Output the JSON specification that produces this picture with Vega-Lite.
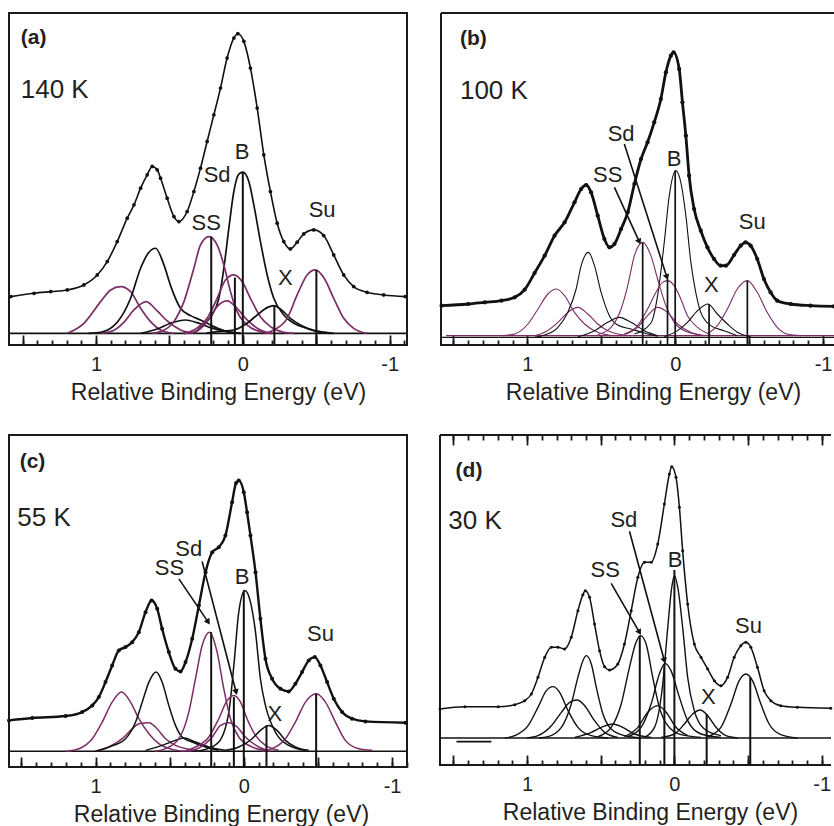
{
"$schema": "https://vega.github.io/schema/vega-lite/v6.json",
"background": "white",
"padding": {"left": 3, "top": 12, "right": 0, "bottom": 0},
"config": {
 "font": "Liberation Sans",
 "view": {"stroke": null},
 "axis": {"grid": false, "tickColor": "#1a1a1a", "tickWidth": 1.8, "domainColor": "#1a1a1a", "domainWidth": 2, "labelColor": "#231f20", "labelFontSize": 20, "labelPadding": 18, "labelFlush": false, "labelOverlap": false, "titleColor": "#231f20", "titleFontSize": 23, "titleFontWeight": "normal", "titlePadding": 7}
},
"datasets": {
 "comp": [
  {"p":"a","s":"base","g":"k","x":1.592,"y":3.5},{"p":"a","s":"base","g":"k","x":-1.118,"y":3.5},
  {"p":"a","s":"P1","g":"m","x":1.195,"y":3.5},{"p":"a","s":"P1","g":"m","x":1.082,"y":6.5},{"p":"a","s":"P1","g":"m","x":0.968,"y":13.0},{"p":"a","s":"P1","g":"m","x":0.9,"y":16.5},{"p":"a","s":"P1","g":"m","x":0.832,"y":17.5},{"p":"a","s":"P1","g":"m","x":0.764,"y":16.0},{"p":"a","s":"P1","g":"m","x":0.696,"y":11.0},{"p":"a","s":"P1","g":"m","x":0.628,"y":7.0},{"p":"a","s":"P1","g":"m","x":0.56,"y":4.5},{"p":"a","s":"P1","g":"m","x":0.469,"y":3.5},
  {"p":"a","s":"P2","g":"m","x":0.98,"y":3.5},{"p":"a","s":"P2","g":"m","x":0.9,"y":4.0},{"p":"a","s":"P2","g":"m","x":0.81,"y":6.8},{"p":"a","s":"P2","g":"m","x":0.741,"y":10.5},{"p":"a","s":"P2","g":"m","x":0.658,"y":13.0},{"p":"a","s":"P2","g":"m","x":0.583,"y":10.2},{"p":"a","s":"P2","g":"m","x":0.515,"y":7.2},{"p":"a","s":"P2","g":"m","x":0.424,"y":4.5},{"p":"a","s":"P2","g":"m","x":0.333,"y":3.5},
  {"p":"a","s":"K1","g":"k","x":1.05,"y":3.5},{"p":"a","s":"K1","g":"k","x":0.968,"y":3.8},{"p":"a","s":"K1","g":"k","x":0.855,"y":6.8},{"p":"a","s":"K1","g":"k","x":0.764,"y":14.0},{"p":"a","s":"K1","g":"k","x":0.696,"y":23.0},{"p":"a","s":"K1","g":"k","x":0.639,"y":27.8},{"p":"a","s":"K1","g":"k","x":0.594,"y":29.0},{"p":"a","s":"K1","g":"k","x":0.537,"y":24.0},{"p":"a","s":"K1","g":"k","x":0.492,"y":17.8},{"p":"a","s":"K1","g":"k","x":0.424,"y":11.0},{"p":"a","s":"K1","g":"k","x":0.356,"y":8.8},{"p":"a","s":"K1","g":"k","x":0.288,"y":7.5},{"p":"a","s":"K1","g":"k","x":0.197,"y":5.5},{"p":"a","s":"K1","g":"k","x":0.107,"y":4.0},{"p":"a","s":"K1","g":"k","x":0.016,"y":3.5},
  {"p":"a","s":"K2","g":"k","x":0.696,"y":3.5},{"p":"a","s":"K2","g":"k","x":0.583,"y":4.8},{"p":"a","s":"K2","g":"k","x":0.492,"y":6.5},{"p":"a","s":"K2","g":"k","x":0.39,"y":7.5},{"p":"a","s":"K2","g":"k","x":0.311,"y":6.7},{"p":"a","s":"K2","g":"k","x":0.22,"y":5.2},{"p":"a","s":"K2","g":"k","x":0.107,"y":4.0},{"p":"a","s":"K2","g":"k","x":0.016,"y":3.5},
  {"p":"a","s":"B","g":"k","x":0.4,"y":3.5},{"p":"a","s":"B","g":"k","x":0.333,"y":3.8},{"p":"a","s":"B","g":"k","x":0.265,"y":6.2},{"p":"a","s":"B","g":"k","x":0.209,"y":9.0},{"p":"a","s":"B","g":"k","x":0.163,"y":14.0},{"p":"a","s":"B","g":"k","x":0.129,"y":23.0},{"p":"a","s":"B","g":"k","x":0.095,"y":35.0},{"p":"a","s":"B","g":"k","x":0.061,"y":46.0},{"p":"a","s":"B","g":"k","x":0.027,"y":51.2},{"p":"a","s":"B","g":"k","x":0,"y":51.8},{"p":"a","s":"B","g":"k","x":-0.041,"y":49.0},{"p":"a","s":"B","g":"k","x":-0.075,"y":42.0},{"p":"a","s":"B","g":"k","x":-0.12,"y":31.0},{"p":"a","s":"B","g":"k","x":-0.166,"y":21.0},{"p":"a","s":"B","g":"k","x":-0.211,"y":14.0},{"p":"a","s":"B","g":"k","x":-0.279,"y":9.0},{"p":"a","s":"B","g":"k","x":-0.347,"y":6.5},{"p":"a","s":"B","g":"k","x":-0.438,"y":5.0},{"p":"a","s":"B","g":"k","x":-0.528,"y":4.0},{"p":"a","s":"B","g":"k","x":-0.619,"y":3.5},
  {"p":"a","s":"Sd","g":"m","x":0.4,"y":3.5},{"p":"a","s":"Sd","g":"m","x":0.333,"y":4.5},{"p":"a","s":"Sd","g":"m","x":0.243,"y":8.0},{"p":"a","s":"Sd","g":"m","x":0.175,"y":14.0},{"p":"a","s":"Sd","g":"m","x":0.118,"y":19.5},{"p":"a","s":"Sd","g":"m","x":0.061,"y":21.0},{"p":"a","s":"Sd","g":"m","x":0.005,"y":19.0},{"p":"a","s":"Sd","g":"m","x":-0.052,"y":14.0},{"p":"a","s":"Sd","g":"m","x":-0.12,"y":8.5},{"p":"a","s":"Sd","g":"m","x":-0.188,"y":5.5},{"p":"a","s":"Sd","g":"m","x":-0.279,"y":3.8},{"p":"a","s":"Sd","g":"m","x":-0.35,"y":3.5},
  {"p":"a","s":"S2","g":"m","x":0.4,"y":3.5},{"p":"a","s":"S2","g":"m","x":0.333,"y":3.8},{"p":"a","s":"S2","g":"m","x":0.243,"y":7.0},{"p":"a","s":"S2","g":"m","x":0.175,"y":11.5},{"p":"a","s":"S2","g":"m","x":0.107,"y":13.2},{"p":"a","s":"S2","g":"m","x":0.039,"y":11.0},{"p":"a","s":"S2","g":"m","x":-0.029,"y":7.5},{"p":"a","s":"S2","g":"m","x":-0.12,"y":4.5},{"p":"a","s":"S2","g":"m","x":-0.211,"y":3.5},
  {"p":"a","s":"SS","g":"m","x":0.62,"y":3.5},{"p":"a","s":"SS","g":"m","x":0.56,"y":4.0},{"p":"a","s":"SS","g":"m","x":0.469,"y":7.0},{"p":"a","s":"SS","g":"m","x":0.401,"y":13.0},{"p":"a","s":"SS","g":"m","x":0.333,"y":23.0},{"p":"a","s":"SS","g":"m","x":0.288,"y":30.0},{"p":"a","s":"SS","g":"m","x":0.231,"y":32.5},{"p":"a","s":"SS","g":"m","x":0.175,"y":30.0},{"p":"a","s":"SS","g":"m","x":0.129,"y":24.0},{"p":"a","s":"SS","g":"m","x":0.084,"y":16.0},{"p":"a","s":"SS","g":"m","x":0.039,"y":10.0},{"p":"a","s":"SS","g":"m","x":-0.029,"y":6.0},{"p":"a","s":"SS","g":"m","x":-0.12,"y":4.0},{"p":"a","s":"SS","g":"m","x":-0.2,"y":3.5},
  {"p":"a","s":"X","g":"k","x":0.25,"y":3.5},{"p":"a","s":"X","g":"k","x":0.175,"y":4.0},{"p":"a","s":"X","g":"k","x":0.061,"y":4.5},{"p":"a","s":"X","g":"k","x":-0.029,"y":6.5},{"p":"a","s":"X","g":"k","x":-0.098,"y":9.0},{"p":"a","s":"X","g":"k","x":-0.166,"y":11.2},{"p":"a","s":"X","g":"k","x":-0.211,"y":11.8},{"p":"a","s":"X","g":"k","x":-0.256,"y":10.8},{"p":"a","s":"X","g":"k","x":-0.324,"y":8.0},{"p":"a","s":"X","g":"k","x":-0.392,"y":6.0},{"p":"a","s":"X","g":"k","x":-0.506,"y":4.0},{"p":"a","s":"X","g":"k","x":-0.6,"y":3.5},
  {"p":"a","s":"Su","g":"m","x":-0.15,"y":3.5},{"p":"a","s":"Su","g":"m","x":-0.211,"y":4.5},{"p":"a","s":"Su","g":"m","x":-0.302,"y":8.0},{"p":"a","s":"Su","g":"m","x":-0.37,"y":15.0},{"p":"a","s":"Su","g":"m","x":-0.438,"y":21.0},{"p":"a","s":"Su","g":"m","x":-0.494,"y":22.5},{"p":"a","s":"Su","g":"m","x":-0.551,"y":20.2},{"p":"a","s":"Su","g":"m","x":-0.619,"y":14.0},{"p":"a","s":"Su","g":"m","x":-0.687,"y":8.0},{"p":"a","s":"Su","g":"m","x":-0.755,"y":5.0},{"p":"a","s":"Su","g":"m","x":-0.846,"y":3.5},

  {"p":"b","s":"baseK","g":"k","x":1.584,"y":2.3},{"p":"b","s":"baseK","g":"k","x":-1.074,"y":2.3},
  {"p":"b","s":"baseM","g":"m","x":1.55,"y":2.8},{"p":"b","s":"baseM","g":"m","x":-1.074,"y":2.8},
  {"p":"b","s":"P1","g":"m","x":1.17,"y":2.8},{"p":"b","s":"P1","g":"m","x":1.085,"y":3.3},{"p":"b","s":"P1","g":"m","x":0.996,"y":6.3},{"p":"b","s":"P1","g":"m","x":0.928,"y":10.8},{"p":"b","s":"P1","g":"m","x":0.861,"y":15.3},{"p":"b","s":"P1","g":"m","x":0.804,"y":16.8},{"p":"b","s":"P1","g":"m","x":0.748,"y":14.8},{"p":"b","s":"P1","g":"m","x":0.681,"y":9.8},{"p":"b","s":"P1","g":"m","x":0.613,"y":6.3},{"p":"b","s":"P1","g":"m","x":0.524,"y":3.8},{"p":"b","s":"P1","g":"m","x":0.434,"y":2.8},
  {"p":"b","s":"P2","g":"m","x":0.95,"y":2.8},{"p":"b","s":"P2","g":"m","x":0.883,"y":3.8},{"p":"b","s":"P2","g":"m","x":0.793,"y":6.8},{"p":"b","s":"P2","g":"m","x":0.726,"y":9.8},{"p":"b","s":"P2","g":"m","x":0.658,"y":11.3},{"p":"b","s":"P2","g":"m","x":0.591,"y":9.3},{"p":"b","s":"P2","g":"m","x":0.524,"y":6.3},{"p":"b","s":"P2","g":"m","x":0.456,"y":4.3},{"p":"b","s":"P2","g":"m","x":0.344,"y":3.0},
  {"p":"b","s":"K1","g":"k","x":0.95,"y":2.3},{"p":"b","s":"K1","g":"k","x":0.883,"y":3.0},{"p":"b","s":"K1","g":"k","x":0.793,"y":5.3},{"p":"b","s":"K1","g":"k","x":0.726,"y":9.8},{"p":"b","s":"K1","g":"k","x":0.67,"y":16.8},{"p":"b","s":"K1","g":"k","x":0.636,"y":23.8},{"p":"b","s":"K1","g":"k","x":0.587,"y":27.8},{"p":"b","s":"K1","g":"k","x":0.546,"y":23.8},{"p":"b","s":"K1","g":"k","x":0.501,"y":15.8},{"p":"b","s":"K1","g":"k","x":0.445,"y":8.8},{"p":"b","s":"K1","g":"k","x":0.389,"y":6.0},{"p":"b","s":"K1","g":"k","x":0.299,"y":4.8},{"p":"b","s":"K1","g":"k","x":0.209,"y":3.6},{"p":"b","s":"K1","g":"k","x":0.119,"y":2.6},
  {"p":"b","s":"K2","g":"k","x":0.658,"y":2.5},{"p":"b","s":"K2","g":"k","x":0.546,"y":4.3},{"p":"b","s":"K2","g":"k","x":0.456,"y":6.8},{"p":"b","s":"K2","g":"k","x":0.378,"y":8.3},{"p":"b","s":"K2","g":"k","x":0.299,"y":6.8},{"p":"b","s":"K2","g":"k","x":0.209,"y":4.3},{"p":"b","s":"K2","g":"k","x":0.119,"y":2.8},
  {"p":"b","s":"B","g":"k","x":0.276,"y":3.3},{"p":"b","s":"B","g":"k","x":0.164,"y":6.6},{"p":"b","s":"B","g":"k","x":0.119,"y":14.8},{"p":"b","s":"B","g":"k","x":0.074,"y":30.8},{"p":"b","s":"B","g":"k","x":0.04,"y":44.8},{"p":"b","s":"B","g":"k","x":-0.004,"y":52.3},{"p":"b","s":"B","g":"k","x":-0.038,"y":48.8},{"p":"b","s":"B","g":"k","x":-0.072,"y":38.8},{"p":"b","s":"B","g":"k","x":-0.106,"y":24.8},{"p":"b","s":"B","g":"k","x":-0.139,"y":15.8},{"p":"b","s":"B","g":"k","x":-0.173,"y":9.8},{"p":"b","s":"B","g":"k","x":-0.24,"y":5.8},{"p":"b","s":"B","g":"k","x":-0.33,"y":4.3},{"p":"b","s":"B","g":"k","x":-0.42,"y":2.8},
  {"p":"b","s":"Sd","g":"m","x":0.344,"y":3.3},{"p":"b","s":"Sd","g":"m","x":0.254,"y":5.8},{"p":"b","s":"Sd","g":"m","x":0.187,"y":10.8},{"p":"b","s":"Sd","g":"m","x":0.13,"y":15.8},{"p":"b","s":"Sd","g":"m","x":0.085,"y":18.8},{"p":"b","s":"Sd","g":"m","x":0.052,"y":19.3},{"p":"b","s":"Sd","g":"m","x":0.007,"y":17.8},{"p":"b","s":"Sd","g":"m","x":-0.038,"y":13.8},{"p":"b","s":"Sd","g":"m","x":-0.083,"y":8.8},{"p":"b","s":"Sd","g":"m","x":-0.151,"y":5.3},{"p":"b","s":"Sd","g":"m","x":-0.24,"y":3.1},
  {"p":"b","s":"S2","g":"m","x":0.344,"y":3.1},{"p":"b","s":"S2","g":"m","x":0.254,"y":5.3},{"p":"b","s":"S2","g":"m","x":0.187,"y":8.8},{"p":"b","s":"S2","g":"m","x":0.119,"y":11.3},{"p":"b","s":"S2","g":"m","x":0.052,"y":9.8},{"p":"b","s":"S2","g":"m","x":-0.016,"y":6.3},{"p":"b","s":"S2","g":"m","x":-0.106,"y":3.8},{"p":"b","s":"S2","g":"m","x":-0.196,"y":2.8},
  {"p":"b","s":"SS","g":"m","x":0.524,"y":3.1},{"p":"b","s":"SS","g":"m","x":0.434,"y":5.3},{"p":"b","s":"SS","g":"m","x":0.366,"y":10.8},{"p":"b","s":"SS","g":"m","x":0.321,"y":17.8},{"p":"b","s":"SS","g":"m","x":0.276,"y":26.8},{"p":"b","s":"SS","g":"m","x":0.22,"y":30.8},{"p":"b","s":"SS","g":"m","x":0.164,"y":26.8},{"p":"b","s":"SS","g":"m","x":0.119,"y":19.8},{"p":"b","s":"SS","g":"m","x":0.063,"y":11.8},{"p":"b","s":"SS","g":"m","x":0.007,"y":6.8},{"p":"b","s":"SS","g":"m","x":-0.061,"y":4.3},{"p":"b","s":"SS","g":"m","x":-0.173,"y":3.0},
  {"p":"b","s":"X","g":"k","x":0.074,"y":2.5},{"p":"b","s":"X","g":"k","x":-0.016,"y":4.3},{"p":"b","s":"X","g":"k","x":-0.083,"y":6.8},{"p":"b","s":"X","g":"k","x":-0.151,"y":10.3},{"p":"b","s":"X","g":"k","x":-0.222,"y":12.3},{"p":"b","s":"X","g":"k","x":-0.285,"y":9.3},{"p":"b","s":"X","g":"k","x":-0.353,"y":6.3},{"p":"b","s":"X","g":"k","x":-0.42,"y":3.8},{"p":"b","s":"X","g":"k","x":-0.51,"y":2.5},
  {"p":"b","s":"Su","g":"m","x":-0.218,"y":3.3},{"p":"b","s":"Su","g":"m","x":-0.285,"y":5.8},{"p":"b","s":"Su","g":"m","x":-0.353,"y":10.8},{"p":"b","s":"Su","g":"m","x":-0.42,"y":16.8},{"p":"b","s":"Su","g":"m","x":-0.488,"y":19.3},{"p":"b","s":"Su","g":"m","x":-0.555,"y":15.8},{"p":"b","s":"Su","g":"m","x":-0.622,"y":9.8},{"p":"b","s":"Su","g":"m","x":-0.69,"y":5.3},{"p":"b","s":"Su","g":"m","x":-0.757,"y":3.3},{"p":"b","s":"Su","g":"m","x":-0.85,"y":2.8},

  {"p":"c","s":"base","g":"k","x":1.584,"y":4.7},{"p":"c","s":"base","g":"k","x":-1.101,"y":4.7},
  {"p":"c","s":"P1","g":"m","x":1.2,"y":4.7},{"p":"c","s":"P1","g":"m","x":1.112,"y":5.5},{"p":"c","s":"P1","g":"m","x":1.022,"y":8.5},{"p":"c","s":"P1","g":"m","x":0.955,"y":13.5},{"p":"c","s":"P1","g":"m","x":0.888,"y":19.5},{"p":"c","s":"P1","g":"m","x":0.825,"y":22.5},{"p":"c","s":"P1","g":"m","x":0.764,"y":19.5},{"p":"c","s":"P1","g":"m","x":0.708,"y":14.5},{"p":"c","s":"P1","g":"m","x":0.64,"y":10.0},{"p":"c","s":"P1","g":"m","x":0.573,"y":7.0},{"p":"c","s":"P1","g":"m","x":0.483,"y":5.3},{"p":"c","s":"P1","g":"m","x":0.4,"y":4.7},
  {"p":"c","s":"P2","g":"m","x":1.0,"y":4.7},{"p":"c","s":"P2","g":"m","x":0.91,"y":6.0},{"p":"c","s":"P2","g":"m","x":0.82,"y":8.5},{"p":"c","s":"P2","g":"m","x":0.753,"y":11.5},{"p":"c","s":"P2","g":"m","x":0.708,"y":13.0},{"p":"c","s":"P2","g":"m","x":0.64,"y":13.3},{"p":"c","s":"P2","g":"m","x":0.596,"y":12.0},{"p":"c","s":"P2","g":"m","x":0.528,"y":8.5},{"p":"c","s":"P2","g":"m","x":0.461,"y":6.5},{"p":"c","s":"P2","g":"m","x":0.371,"y":5.3},{"p":"c","s":"P2","g":"m","x":0.3,"y":4.7},
  {"p":"c","s":"K1","g":"k","x":1.0,"y":4.7},{"p":"c","s":"K1","g":"k","x":0.91,"y":6.0},{"p":"c","s":"K1","g":"k","x":0.798,"y":8.5},{"p":"c","s":"K1","g":"k","x":0.73,"y":13.5},{"p":"c","s":"K1","g":"k","x":0.685,"y":19.5},{"p":"c","s":"K1","g":"k","x":0.64,"y":25.5},{"p":"c","s":"K1","g":"k","x":0.591,"y":28.5},{"p":"c","s":"K1","g":"k","x":0.551,"y":25.5},{"p":"c","s":"K1","g":"k","x":0.506,"y":18.5},{"p":"c","s":"K1","g":"k","x":0.461,"y":12.5},{"p":"c","s":"K1","g":"k","x":0.416,"y":9.0},{"p":"c","s":"K1","g":"k","x":0.348,"y":7.5},{"p":"c","s":"K1","g":"k","x":0.258,"y":6.0},{"p":"c","s":"K1","g":"k","x":0.169,"y":5.0},
  {"p":"c","s":"K2","g":"k","x":0.663,"y":5.0},{"p":"c","s":"K2","g":"k","x":0.551,"y":6.5},{"p":"c","s":"K2","g":"k","x":0.461,"y":8.0},{"p":"c","s":"K2","g":"k","x":0.404,"y":8.7},{"p":"c","s":"K2","g":"k","x":0.326,"y":7.5},{"p":"c","s":"K2","g":"k","x":0.236,"y":6.0},{"p":"c","s":"K2","g":"k","x":0.124,"y":5.0},
  {"p":"c","s":"B","g":"k","x":0.35,"y":4.7},{"p":"c","s":"B","g":"k","x":0.258,"y":5.3},{"p":"c","s":"B","g":"k","x":0.169,"y":7.5},{"p":"c","s":"B","g":"k","x":0.101,"y":16.5},{"p":"c","s":"B","g":"k","x":0.067,"y":30.5},{"p":"c","s":"B","g":"k","x":0.034,"y":46.5},{"p":"c","s":"B","g":"k","x":-0.007,"y":53.0},{"p":"c","s":"B","g":"k","x":-0.045,"y":49.5},{"p":"c","s":"B","g":"k","x":-0.079,"y":40.5},{"p":"c","s":"B","g":"k","x":-0.112,"y":26.5},{"p":"c","s":"B","g":"k","x":-0.146,"y":18.5},{"p":"c","s":"B","g":"k","x":-0.213,"y":10.5},{"p":"c","s":"B","g":"k","x":-0.303,"y":6.5},{"p":"c","s":"B","g":"k","x":-0.416,"y":5.0},
  {"p":"c","s":"Sd","g":"m","x":0.4,"y":4.7},{"p":"c","s":"Sd","g":"m","x":0.326,"y":6.0},{"p":"c","s":"Sd","g":"m","x":0.236,"y":9.0},{"p":"c","s":"Sd","g":"m","x":0.169,"y":14.5},{"p":"c","s":"Sd","g":"m","x":0.112,"y":20.0},{"p":"c","s":"Sd","g":"m","x":0.067,"y":21.5},{"p":"c","s":"Sd","g":"m","x":0.022,"y":19.5},{"p":"c","s":"Sd","g":"m","x":-0.022,"y":14.5},{"p":"c","s":"Sd","g":"m","x":-0.079,"y":9.5},{"p":"c","s":"Sd","g":"m","x":-0.146,"y":6.5},{"p":"c","s":"Sd","g":"m","x":-0.236,"y":5.0},
  {"p":"c","s":"S2","g":"m","x":0.38,"y":4.7},{"p":"c","s":"S2","g":"m","x":0.303,"y":5.7},{"p":"c","s":"S2","g":"m","x":0.213,"y":9.0},{"p":"c","s":"S2","g":"m","x":0.157,"y":12.5},{"p":"c","s":"S2","g":"m","x":0.101,"y":13.3},{"p":"c","s":"S2","g":"m","x":0.045,"y":12.0},{"p":"c","s":"S2","g":"m","x":-0.011,"y":9.0},{"p":"c","s":"S2","g":"m","x":-0.101,"y":6.0},{"p":"c","s":"S2","g":"m","x":-0.18,"y":4.7},
  {"p":"c","s":"SS","g":"m","x":0.6,"y":4.7},{"p":"c","s":"SS","g":"m","x":0.528,"y":5.5},{"p":"c","s":"SS","g":"m","x":0.438,"y":8.5},{"p":"c","s":"SS","g":"m","x":0.371,"y":16.5},{"p":"c","s":"SS","g":"m","x":0.326,"y":26.5},{"p":"c","s":"SS","g":"m","x":0.281,"y":36.5},{"p":"c","s":"SS","g":"m","x":0.231,"y":40.5},{"p":"c","s":"SS","g":"m","x":0.18,"y":34.5},{"p":"c","s":"SS","g":"m","x":0.135,"y":23.5},{"p":"c","s":"SS","g":"m","x":0.09,"y":14.5},{"p":"c","s":"SS","g":"m","x":0.034,"y":9.0},{"p":"c","s":"SS","g":"m","x":-0.056,"y":6.0},{"p":"c","s":"SS","g":"m","x":-0.146,"y":5.0},
  {"p":"c","s":"X","g":"k","x":0.124,"y":5.0},{"p":"c","s":"X","g":"k","x":0.034,"y":6.0},{"p":"c","s":"X","g":"k","x":-0.056,"y":8.5},{"p":"c","s":"X","g":"k","x":-0.112,"y":11.0},{"p":"c","s":"X","g":"k","x":-0.169,"y":12.5},{"p":"c","s":"X","g":"k","x":-0.225,"y":11.0},{"p":"c","s":"X","g":"k","x":-0.281,"y":8.0},{"p":"c","s":"X","g":"k","x":-0.348,"y":6.0},{"p":"c","s":"X","g":"k","x":-0.438,"y":5.0},
  {"p":"c","s":"Su","g":"m","x":-0.12,"y":4.7},{"p":"c","s":"Su","g":"m","x":-0.191,"y":5.5},{"p":"c","s":"Su","g":"m","x":-0.281,"y":8.5},{"p":"c","s":"Su","g":"m","x":-0.348,"y":13.5},{"p":"c","s":"Su","g":"m","x":-0.416,"y":19.5},{"p":"c","s":"Su","g":"m","x":-0.488,"y":22.0},{"p":"c","s":"Su","g":"m","x":-0.551,"y":19.5},{"p":"c","s":"Su","g":"m","x":-0.618,"y":13.5},{"p":"c","s":"Su","g":"m","x":-0.685,"y":8.0},{"p":"c","s":"Su","g":"m","x":-0.775,"y":5.5},{"p":"c","s":"Su","g":"m","x":-0.865,"y":5.0},

  {"p":"d","s":"base","g":"k","x":1.591,"y":8.1},{"p":"d","s":"base","g":"k","x":-1.063,"y":8.1},
  {"p":"d","s":"C1","g":"k","x":1.15,"y":8.1},{"p":"d","s":"C1","g":"k","x":1.084,"y":8.8},{"p":"d","s":"C1","g":"k","x":0.993,"y":11.8},{"p":"d","s":"C1","g":"k","x":0.926,"y":17.3},{"p":"d","s":"C1","g":"k","x":0.869,"y":22.3},{"p":"d","s":"C1","g":"k","x":0.824,"y":23.5},{"p":"d","s":"C1","g":"k","x":0.779,"y":21.8},{"p":"d","s":"C1","g":"k","x":0.722,"y":16.3},{"p":"d","s":"C1","g":"k","x":0.655,"y":11.3},{"p":"d","s":"C1","g":"k","x":0.564,"y":8.8},{"p":"d","s":"C1","g":"k","x":0.451,"y":8.1},
  {"p":"d","s":"C2","g":"k","x":1.0,"y":8.1},{"p":"d","s":"C2","g":"k","x":0.926,"y":8.8},{"p":"d","s":"C2","g":"k","x":0.835,"y":11.8},{"p":"d","s":"C2","g":"k","x":0.767,"y":15.8},{"p":"d","s":"C2","g":"k","x":0.711,"y":18.8},{"p":"d","s":"C2","g":"k","x":0.661,"y":19.5},{"p":"d","s":"C2","g":"k","x":0.609,"y":17.8},{"p":"d","s":"C2","g":"k","x":0.542,"y":13.3},{"p":"d","s":"C2","g":"k","x":0.474,"y":9.8},{"p":"d","s":"C2","g":"k","x":0.384,"y":8.3},
  {"p":"d","s":"C3","g":"k","x":0.92,"y":8.1},{"p":"d","s":"C3","g":"k","x":0.858,"y":8.5},{"p":"d","s":"C3","g":"k","x":0.767,"y":11.3},{"p":"d","s":"C3","g":"k","x":0.7,"y":18.3},{"p":"d","s":"C3","g":"k","x":0.655,"y":26.3},{"p":"d","s":"C3","g":"k","x":0.621,"y":31.3},{"p":"d","s":"C3","g":"k","x":0.598,"y":32.8},{"p":"d","s":"C3","g":"k","x":0.564,"y":30.3},{"p":"d","s":"C3","g":"k","x":0.53,"y":23.3},{"p":"d","s":"C3","g":"k","x":0.485,"y":15.3},{"p":"d","s":"C3","g":"k","x":0.429,"y":10.8},{"p":"d","s":"C3","g":"k","x":0.339,"y":8.8},{"p":"d","s":"C3","g":"k","x":0.226,"y":8.1},
  {"p":"d","s":"C4","g":"k","x":0.677,"y":8.3},{"p":"d","s":"C4","g":"k","x":0.564,"y":9.8},{"p":"d","s":"C4","g":"k","x":0.485,"y":11.5},{"p":"d","s":"C4","g":"k","x":0.418,"y":12.3},{"p":"d","s":"C4","g":"k","x":0.35,"y":11.3},{"p":"d","s":"C4","g":"k","x":0.271,"y":9.3},{"p":"d","s":"C4","g":"k","x":0.158,"y":8.3},
  {"p":"d","s":"SS","g":"k","x":0.519,"y":8.5},{"p":"d","s":"SS","g":"k","x":0.429,"y":11.3},{"p":"d","s":"SS","g":"k","x":0.361,"y":18.3},{"p":"d","s":"SS","g":"k","x":0.305,"y":29.3},{"p":"d","s":"SS","g":"k","x":0.26,"y":36.8},{"p":"d","s":"SS","g":"k","x":0.23,"y":38.8},{"p":"d","s":"SS","g":"k","x":0.192,"y":36.3},{"p":"d","s":"SS","g":"k","x":0.147,"y":26.3},{"p":"d","s":"SS","g":"k","x":0.102,"y":17.3},{"p":"d","s":"SS","g":"k","x":0.045,"y":11.8},{"p":"d","s":"SS","g":"k","x":-0.045,"y":9.1},{"p":"d","s":"SS","g":"k","x":-0.181,"y":8.3},
  {"p":"d","s":"C5","g":"k","x":0.339,"y":8.5},{"p":"d","s":"C5","g":"k","x":0.248,"y":11.3},{"p":"d","s":"C5","g":"k","x":0.181,"y":15.8},{"p":"d","s":"C5","g":"k","x":0.113,"y":17.8},{"p":"d","s":"C5","g":"k","x":0.056,"y":15.8},{"p":"d","s":"C5","g":"k","x":-0.011,"y":11.3},{"p":"d","s":"C5","g":"k","x":-0.09,"y":8.8},
  {"p":"d","s":"Sd","g":"k","x":0.316,"y":8.5},{"p":"d","s":"Sd","g":"k","x":0.226,"y":11.3},{"p":"d","s":"Sd","g":"k","x":0.158,"y":18.3},{"p":"d","s":"Sd","g":"k","x":0.102,"y":27.3},{"p":"d","s":"Sd","g":"k","x":0.063,"y":30.5},{"p":"d","s":"Sd","g":"k","x":0.023,"y":28.3},{"p":"d","s":"Sd","g":"k","x":-0.034,"y":20.3},{"p":"d","s":"Sd","g":"k","x":-0.09,"y":13.3},{"p":"d","s":"Sd","g":"k","x":-0.181,"y":9.3},{"p":"d","s":"Sd","g":"k","x":-0.316,"y":8.3},
  {"p":"d","s":"B","g":"k","x":0.203,"y":8.3},{"p":"d","s":"B","g":"k","x":0.135,"y":11.3},{"p":"d","s":"B","g":"k","x":0.079,"y":24.3},{"p":"d","s":"B","g":"k","x":0.045,"y":41.3},{"p":"d","s":"B","g":"k","x":0.018,"y":53.3},{"p":"d","s":"B","g":"k","x":0,"y":56.8},{"p":"d","s":"B","g":"k","x":-0.023,"y":53.3},{"p":"d","s":"B","g":"k","x":-0.056,"y":41.3},{"p":"d","s":"B","g":"k","x":-0.09,"y":26.3},{"p":"d","s":"B","g":"k","x":-0.135,"y":16.3},{"p":"d","s":"B","g":"k","x":-0.203,"y":10.8},{"p":"d","s":"B","g":"k","x":-0.316,"y":8.8},
  {"p":"d","s":"X","g":"k","x":0.09,"y":8.3},{"p":"d","s":"X","g":"k","x":0,"y":9.3},{"p":"d","s":"X","g":"k","x":-0.068,"y":12.3},{"p":"d","s":"X","g":"k","x":-0.124,"y":15.3},{"p":"d","s":"X","g":"k","x":-0.176,"y":16.5},{"p":"d","s":"X","g":"k","x":-0.226,"y":14.8},{"p":"d","s":"X","g":"k","x":-0.282,"y":11.3},{"p":"d","s":"X","g":"k","x":-0.35,"y":8.8},{"p":"d","s":"X","g":"k","x":-0.429,"y":8.1},
  {"p":"d","s":"Su","g":"k","x":-0.226,"y":8.5},{"p":"d","s":"Su","g":"k","x":-0.316,"y":11.3},{"p":"d","s":"Su","g":"k","x":-0.384,"y":18.3},{"p":"d","s":"Su","g":"k","x":-0.44,"y":25.3},{"p":"d","s":"Su","g":"k","x":-0.485,"y":27.3},{"p":"d","s":"Su","g":"k","x":-0.53,"y":25.3},{"p":"d","s":"Su","g":"k","x":-0.587,"y":18.3},{"p":"d","s":"Su","g":"k","x":-0.643,"y":12.3},{"p":"d","s":"Su","g":"k","x":-0.722,"y":9.1},{"p":"d","s":"Su","g":"k","x":-0.835,"y":8.1}
 ],
 "dat": [
  {"p":"a","x":1.58,"y":14.5},{"p":"a","x":1.422,"y":15.5},{"p":"a","x":1.308,"y":16.0},{"p":"a","x":1.195,"y":16.5},{"p":"a","x":1.082,"y":18.0},{"p":"a","x":0.991,"y":21.0},{"p":"a","x":0.923,"y":25.0},{"p":"a","x":0.855,"y":31.0},{"p":"a","x":0.787,"y":38.0},{"p":"a","x":0.741,"y":42.0},{"p":"a","x":0.696,"y":47.0},{"p":"a","x":0.651,"y":51.0},{"p":"a","x":0.617,"y":53.5},{"p":"a","x":0.583,"y":52.5},{"p":"a","x":0.56,"y":50.0},{"p":"a","x":0.515,"y":44.0},{"p":"a","x":0.469,"y":38.5},{"p":"a","x":0.435,"y":37.0},{"p":"a","x":0.379,"y":40.0},{"p":"a","x":0.333,"y":46.0},{"p":"a","x":0.288,"y":53.0},{"p":"a","x":0.243,"y":61.0},{"p":"a","x":0.197,"y":69.0},{"p":"a","x":0.152,"y":77.0},{"p":"a","x":0.107,"y":86.0},{"p":"a","x":0.061,"y":92.0},{"p":"a","x":0.034,"y":93.3},{"p":"a","x":-0.007,"y":91.0},{"p":"a","x":-0.052,"y":83.0},{"p":"a","x":-0.098,"y":71.0},{"p":"a","x":-0.143,"y":57.0},{"p":"a","x":-0.188,"y":46.0},{"p":"a","x":-0.234,"y":36.5},{"p":"a","x":-0.279,"y":31.0},{"p":"a","x":-0.324,"y":28.8},{"p":"a","x":-0.37,"y":30.8},{"p":"a","x":-0.415,"y":33.3},{"p":"a","x":-0.483,"y":34.5},{"p":"a","x":-0.551,"y":32.8},{"p":"a","x":-0.619,"y":27.0},{"p":"a","x":-0.687,"y":21.0},{"p":"a","x":-0.755,"y":17.5},{"p":"a","x":-0.846,"y":15.8},{"p":"a","x":-0.959,"y":15.0},{"p":"a","x":-1.107,"y":14.5},
  {"p":"b","x":1.58,"y":11.8},{"p":"b","x":1.4,"y":12.3},{"p":"b","x":1.288,"y":12.8},{"p":"b","x":1.175,"y":13.3},{"p":"b","x":1.085,"y":14.3},{"p":"b","x":1.018,"y":16.6},{"p":"b","x":0.951,"y":21.6},{"p":"b","x":0.883,"y":26.8},{"p":"b","x":0.816,"y":32.8},{"p":"b","x":0.748,"y":36.8},{"p":"b","x":0.681,"y":42.8},{"p":"b","x":0.636,"y":46.8},{"p":"b","x":0.602,"y":48.0},{"p":"b","x":0.569,"y":45.8},{"p":"b","x":0.524,"y":38.8},{"p":"b","x":0.479,"y":31.8},{"p":"b","x":0.445,"y":29.3},{"p":"b","x":0.411,"y":30.3},{"p":"b","x":0.366,"y":34.8},{"p":"b","x":0.321,"y":39.8},{"p":"b","x":0.276,"y":48.3},{"p":"b","x":0.231,"y":55.8},{"p":"b","x":0.187,"y":60.8},{"p":"b","x":0.142,"y":66.8},{"p":"b","x":0.097,"y":73.8},{"p":"b","x":0.063,"y":81.8},{"p":"b","x":0.029,"y":86.8},{"p":"b","x":0.011,"y":87.8},{"p":"b","x":-0.027,"y":82.8},{"p":"b","x":-0.049,"y":72.8},{"p":"b","x":-0.072,"y":62.8},{"p":"b","x":-0.094,"y":50.8},{"p":"b","x":-0.128,"y":40.8},{"p":"b","x":-0.173,"y":34.3},{"p":"b","x":-0.218,"y":29.3},{"p":"b","x":-0.263,"y":25.8},{"p":"b","x":-0.308,"y":23.8},{"p":"b","x":-0.342,"y":23.8},{"p":"b","x":-0.398,"y":27.0},{"p":"b","x":-0.443,"y":29.8},{"p":"b","x":-0.476,"y":30.8},{"p":"b","x":-0.51,"y":29.8},{"p":"b","x":-0.555,"y":25.8},{"p":"b","x":-0.6,"y":19.8},{"p":"b","x":-0.645,"y":15.8},{"p":"b","x":-0.69,"y":13.3},{"p":"b","x":-0.78,"y":12.3},{"p":"b","x":-0.915,"y":11.8},{"p":"b","x":-1.072,"y":11.6},
  {"p":"c","x":1.584,"y":14.0},{"p":"c","x":1.427,"y":14.7},{"p":"c","x":1.202,"y":15.3},{"p":"c","x":1.09,"y":16.5},{"p":"c","x":1.022,"y":18.5},{"p":"c","x":0.978,"y":21.0},{"p":"c","x":0.933,"y":25.5},{"p":"c","x":0.888,"y":30.5},{"p":"c","x":0.843,"y":35.0},{"p":"c","x":0.798,"y":36.0},{"p":"c","x":0.753,"y":37.5},{"p":"c","x":0.708,"y":40.5},{"p":"c","x":0.663,"y":46.5},{"p":"c","x":0.622,"y":50.0},{"p":"c","x":0.584,"y":47.5},{"p":"c","x":0.551,"y":41.5},{"p":"c","x":0.506,"y":34.5},{"p":"c","x":0.461,"y":29.5},{"p":"c","x":0.427,"y":28.7},{"p":"c","x":0.393,"y":31.5},{"p":"c","x":0.348,"y":38.5},{"p":"c","x":0.303,"y":48.5},{"p":"c","x":0.258,"y":58.5},{"p":"c","x":0.213,"y":64.5},{"p":"c","x":0.169,"y":66.0},{"p":"c","x":0.124,"y":69.5},{"p":"c","x":0.079,"y":79.5},{"p":"c","x":0.052,"y":85.3},{"p":"c","x":0.034,"y":86.0},{"p":"c","x":0,"y":82.5},{"p":"c","x":-0.022,"y":76.5},{"p":"c","x":-0.045,"y":69.5},{"p":"c","x":-0.079,"y":58.5},{"p":"c","x":-0.112,"y":44.5},{"p":"c","x":-0.146,"y":32.5},{"p":"c","x":-0.191,"y":26.5},{"p":"c","x":-0.247,"y":23.5},{"p":"c","x":-0.303,"y":22.7},{"p":"c","x":-0.348,"y":25.0},{"p":"c","x":-0.393,"y":28.5},{"p":"c","x":-0.438,"y":32.0},{"p":"c","x":-0.479,"y":33.0},{"p":"c","x":-0.517,"y":30.5},{"p":"c","x":-0.562,"y":25.5},{"p":"c","x":-0.607,"y":20.5},{"p":"c","x":-0.663,"y":16.5},{"p":"c","x":-0.73,"y":14.5},{"p":"c","x":-0.82,"y":13.7},{"p":"c","x":-1.09,"y":13.3},
  {"p":"d","x":1.591,"y":16.8},{"p":"d","x":1.422,"y":17.5},{"p":"d","x":1.196,"y":17.5},{"p":"d","x":1.084,"y":18.1},{"p":"d","x":1.016,"y":19.3},{"p":"d","x":0.971,"y":21.3},{"p":"d","x":0.926,"y":26.3},{"p":"d","x":0.88,"y":32.3},{"p":"d","x":0.835,"y":35.3},{"p":"d","x":0.79,"y":35.3},{"p":"d","x":0.745,"y":34.8},{"p":"d","x":0.7,"y":38.3},{"p":"d","x":0.655,"y":46.3},{"p":"d","x":0.621,"y":51.1},{"p":"d","x":0.605,"y":52.3},{"p":"d","x":0.576,"y":50.3},{"p":"d","x":0.542,"y":42.3},{"p":"d","x":0.508,"y":34.3},{"p":"d","x":0.474,"y":29.5},{"p":"d","x":0.44,"y":28.5},{"p":"d","x":0.384,"y":30.3},{"p":"d","x":0.339,"y":36.3},{"p":"d","x":0.293,"y":46.3},{"p":"d","x":0.248,"y":56.3},{"p":"d","x":0.203,"y":60.8},{"p":"d","x":0.158,"y":60.8},{"p":"d","x":0.113,"y":66.3},{"p":"d","x":0.068,"y":78.3},{"p":"d","x":0.034,"y":87.3},{"p":"d","x":0.018,"y":89.5},{"p":"d","x":-0.011,"y":86.3},{"p":"d","x":-0.034,"y":77.3},{"p":"d","x":-0.056,"y":64.3},{"p":"d","x":-0.09,"y":48.3},{"p":"d","x":-0.135,"y":36.3},{"p":"d","x":-0.181,"y":32.3},{"p":"d","x":-0.226,"y":28.8},{"p":"d","x":-0.271,"y":25.3},{"p":"d","x":-0.316,"y":23.8},{"p":"d","x":-0.361,"y":26.3},{"p":"d","x":-0.406,"y":32.3},{"p":"d","x":-0.451,"y":35.8},{"p":"d","x":-0.485,"y":36.8},{"p":"d","x":-0.519,"y":35.3},{"p":"d","x":-0.564,"y":29.3},{"p":"d","x":-0.609,"y":22.3},{"p":"d","x":-0.655,"y":19.3},{"p":"d","x":-0.722,"y":17.8},{"p":"d","x":-0.835,"y":17.3},{"p":"d","x":-1.061,"y":17.0}
 ],
 "vl": [
  {"p":"a","s":"SS","x":0.215,"y":32.5},{"p":"a","s":"Sd","x":0.054,"y":20.2},{"p":"a","s":"B","x":0,"y":51.8},{"p":"a","s":"X","x":-0.215,"y":11.8},{"p":"a","s":"Su","x":-0.501,"y":22.5},
  {"p":"b","s":"SS","x":0.22,"y":30.8},{"p":"b","s":"Sd","x":0.052,"y":19.8},{"p":"b","s":"B","x":0,"y":52.3},{"p":"b","s":"X","x":-0.229,"y":12.3},{"p":"b","s":"Su","x":-0.488,"y":19.3},
  {"p":"c","s":"SS","x":0.22,"y":40.5},{"p":"c","s":"Sd","x":0.067,"y":21.0},{"p":"c","s":"B","x":0,"y":53.0},{"p":"c","s":"X","x":-0.153,"y":12.5},{"p":"c","s":"Su","x":-0.488,"y":22.0},
  {"p":"d","s":"SS","x":0.235,"y":38.8},{"p":"d","s":"Sd","x":0.068,"y":30.3},{"p":"d","s":"B","x":0,"y":58.5},{"p":"d","s":"X","x":-0.219,"y":15.3},{"p":"d","s":"Su","x":-0.515,"y":26.3}
 ],
 "arr": [
  {"p":"b","k":"arrow","x":0.344,"y":60.3,"x2":0.056,"y2":20.3},{"p":"b","k":"arrow","x":0.411,"y":47.3,"x2":0.243,"y2":31.0},
  {"p":"c","k":"arrow","x":0.438,"y":56.5,"x2":0.24,"y2":43.5},{"p":"c","k":"arrow","x":0.281,"y":61.7,"x2":0.052,"y2":22.5},
  {"p":"d","k":"arrow","x":0.429,"y":54.5,"x2":0.237,"y2":39.8},{"p":"d","k":"arrow","x":0.305,"y":70.1,"x2":0.068,"y2":31.3},
  {"p":"d","k":"seg","x":1.479,"y":7.0,"x2":1.242,"y2":7.0}
 ],
 "lab": [
  {"p":"a","k":"panel","t":"(a)","x":1.512,"y":92.0},{"p":"a","k":"temp","t":"140 K","x":1.512,"y":76.5},{"p":"a","k":"peak","t":"B","x":0.005,"y":57.7},{"p":"a","k":"peak","t":"Sd","x":0.175,"y":51.0},{"p":"a","k":"peak","t":"SS","x":0.249,"y":36.7},{"p":"a","k":"peak","t":"Su","x":-0.54,"y":40.5},{"p":"a","k":"peak","t":"X","x":-0.29,"y":20.0},
  {"p":"b","k":"panel","t":"(b)","x":1.456,"y":91.8},{"p":"b","k":"temp","t":"100 K","x":1.456,"y":76.3},{"p":"b","k":"peak","t":"Sd","x":0.366,"y":63.3},{"p":"b","k":"peak","t":"SS","x":0.456,"y":51.0},{"p":"b","k":"peak","t":"B","x":0.007,"y":55.8},{"p":"b","k":"peak","t":"Su","x":-0.521,"y":36.8},{"p":"b","k":"peak","t":"X","x":-0.245,"y":18.0},
  {"p":"c","k":"panel","t":"(c)","x":1.512,"y":91.7},{"p":"c","k":"temp","t":"55 K","x":1.528,"y":74.7},{"p":"c","k":"peak","t":"Sd","x":0.371,"y":65.5},{"p":"c","k":"peak","t":"SS","x":0.501,"y":59.7},{"p":"c","k":"peak","t":"B","x":0.011,"y":57.0},{"p":"c","k":"peak","t":"Su","x":-0.517,"y":40.0},{"p":"c","k":"peak","t":"X","x":-0.209,"y":16.0},
  {"p":"d","k":"panel","t":"(d)","x":1.485,"y":88.3},{"p":"d","k":"temp","t":"30 K","x":1.535,"y":73.3},{"p":"d","k":"peak","t":"Sd","x":0.343,"y":73.5},{"p":"d","k":"peak","t":"SS","x":0.47,"y":58.5},{"p":"d","k":"peak","t":"B","x":-0.005,"y":61.5},{"p":"d","k":"peak","t":"Su","x":-0.503,"y":41.8},{"p":"d","k":"peak","t":"X","x":-0.23,"y":20.5}
 ]
},
"spacing": 28,
"vconcat": [
 {"spacing": 22, "hconcat": [
  {"width": 398, "height": 332,
   "view": {"stroke": "#1a1a1a", "strokeWidth": 2},
   "encoding": {
    "x": {"field": "x", "type": "quantitative", "scale": {"domain": [1.592, -1.118], "nice": false, "zero": false}, "axis": null},
    "y": {"field": "y", "type": "quantitative", "scale": {"domain": [0, 99.5], "nice": false, "zero": false}, "axis": null}
   },
   "resolve": {"axis": {"x": "independent"}},
   "layer": [
    {"data": {"name": "comp"}, "transform": [{"filter": "datum.p=='a'"}],
     "mark": {"type": "line", "strokeWidth": 1.7, "interpolate": "monotone"},
     "encoding": {
      "x": {"field": "x", "type": "quantitative", "scale": {"domain": [1.592, -1.118], "nice": false, "zero": false}, "axis": {"orient": "bottom", "values": [1.5,1.4,1.3,1.2,1.1,1,0.9,0.8,0.7,0.6,0.5,0.4,0.3,0.2,0.1,0,-0.1,-0.2,-0.3,-0.4,-0.5,-0.6,-0.7,-0.8,-0.9,-1,-1.1], "tickSize": -5, "labels": false, "domain": false, "title": null}},
      "detail": {"field": "s"},
      "color": {"field": "g", "type": "nominal", "scale": {"domain": ["k", "m"], "range": ["#111111", "#7b2d66"]}, "legend": null}}},
    {"data": {"name": "vl"}, "transform": [{"filter": "datum.p=='a'"}],
     "mark": {"type": "rule", "strokeWidth": 2, "color": "#111111"},
     "encoding": {
      "x": {"field": "x", "type": "quantitative", "scale": {"domain": [1.592, -1.118], "nice": false, "zero": false}, "axis": {"orient": "bottom", "values": [1.5,1,0.5,0,-0.5,-1], "tickSize": -10, "domain": false, "labelPadding": 19, "labelExpr": "datum.value == 1 ? '1' : datum.value == 0 ? '0' : datum.value == -1 ? '-1' : ''", "title": "Relative Binding Energy (eV)", "titleX": 209}},
      "y2": {"datum": 0}}},
    {"data": {"name": "dat"}, "transform": [{"filter": "datum.p=='a'"}],
     "mark": {"type": "line", "strokeWidth": 1.6, "color": "#111111", "interpolate": "monotone"}},
    {"data": {"name": "dat"}, "transform": [{"filter": "datum.p=='a'"}],
     "mark": {"type": "circle", "size": 14, "color": "#111111", "opacity": 1}},
    {"data": {"name": "lab"}, "transform": [{"filter": "datum.p=='a' && datum.k=='peak'"}],
     "mark": {"type": "text", "fontSize": 22, "color": "#231f20", "align": "center", "baseline": "middle"},
     "encoding": {"text": {"field": "t"}}},
    {"data": {"name": "lab"}, "transform": [{"filter": "datum.p=='a' && datum.k=='temp'"}],
     "mark": {"type": "text", "fontSize": 26, "color": "#231f20", "align": "left", "baseline": "middle"},
     "encoding": {"text": {"field": "t"}}},
    {"data": {"name": "lab"}, "transform": [{"filter": "datum.p=='a' && datum.k=='panel'"}],
     "mark": {"type": "text", "fontSize": 21, "fontWeight": "bold", "color": "#231f20", "align": "left", "baseline": "middle"},
     "encoding": {"text": {"field": "t"}}}
   ]},
  {"width": 393, "height": 332,
   "view": {"stroke": "#1a1a1a", "strokeWidth": 2, "strokeDash": [393, 332, 725, 0]},
   "encoding": {
    "x": {"field": "x", "type": "quantitative", "scale": {"domain": [1.584, -1.074], "nice": false, "zero": false}, "axis": null},
    "y": {"field": "y", "type": "quantitative", "scale": {"domain": [0, 99.6], "nice": false, "zero": false}, "axis": null}
   },
   "resolve": {"axis": {"x": "independent"}},
   "layer": [
    {"data": {"name": "comp"}, "transform": [{"filter": "datum.p=='b'"}],
     "mark": {"type": "line", "strokeWidth": 1.1, "interpolate": "monotone"},
     "encoding": {
      "x": {"field": "x", "type": "quantitative", "scale": {"domain": [1.584, -1.074], "nice": false, "zero": false}, "axis": {"orient": "bottom", "values": [1.5,1.4,1.3,1.2,1.1,1,0.9,0.8,0.7,0.6,0.5,0.4,0.3,0.2,0.1,0,-0.1,-0.2,-0.3,-0.4,-0.5,-0.6,-0.7,-0.8,-0.9,-1], "tickSize": -5, "labels": false, "domain": false, "title": null}},
      "detail": {"field": "s"},
      "color": {"field": "g", "type": "nominal", "scale": {"domain": ["k", "m"], "range": ["#111111", "#7b2d66"]}, "legend": null}}},
    {"data": {"name": "vl"}, "transform": [{"filter": "datum.p=='b'"}],
     "mark": {"type": "rule", "strokeWidth": 1.7, "color": "#111111"},
     "encoding": {
      "x": {"field": "x", "type": "quantitative", "scale": {"domain": [1.584, -1.074], "nice": false, "zero": false}, "axis": {"orient": "bottom", "values": [1.5,1,0.5,0,-0.5,-1], "tickSize": -10, "domain": false, "labelPadding": 19, "labelExpr": "datum.value == 1 ? '1' : datum.value == 0 ? '0' : datum.value == -1 ? '-1' : ''", "title": "Relative Binding Energy (eV)", "titleX": 212}},
      "y2": {"datum": 0}}},
    {"data": {"name": "dat"}, "transform": [{"filter": "datum.p=='b'"}],
     "mark": {"type": "line", "strokeWidth": 2.8, "color": "#111111", "interpolate": "monotone"}},
    {"data": {"name": "dat"}, "transform": [{"filter": "datum.p=='b'"}],
     "mark": {"type": "circle", "size": 18, "color": "#111111", "opacity": 1}},
    {"data": {"name": "arr"}, "transform": [{"filter": "datum.p=='b'"}],
     "mark": {"type": "rule", "strokeWidth": 1.6, "color": "#111111"},
     "encoding": {"x2": {"field": "x2"}, "y2": {"field": "y2"}}},
    {"data": {"name": "arr"}, "transform": [{"filter": "datum.p=='b' && datum.k=='arrow'"}, {"calculate": "atan2((datum.x-datum.x2)*148, -(datum.y-datum.y2)*3.33)*180/PI", "as": "ang"}],
     "mark": {"type": "point", "shape": "triangle-up", "filled": true, "size": 45, "color": "#111111", "opacity": 1},
     "encoding": {
      "x": {"field": "x2", "type": "quantitative", "scale": {"domain": [1.584, -1.074], "nice": false, "zero": false}, "axis": null},
      "y": {"field": "y2", "type": "quantitative", "scale": {"domain": [0, 99.6], "nice": false, "zero": false}, "axis": null},
      "angle": {"field": "ang", "type": "quantitative", "scale": null}}},
    {"data": {"name": "lab"}, "transform": [{"filter": "datum.p=='b' && datum.k=='peak'"}],
     "mark": {"type": "text", "fontSize": 22, "color": "#231f20", "align": "center", "baseline": "middle"},
     "encoding": {"text": {"field": "t"}}},
    {"data": {"name": "lab"}, "transform": [{"filter": "datum.p=='b' && datum.k=='temp'"}],
     "mark": {"type": "text", "fontSize": 26, "color": "#231f20", "align": "left", "baseline": "middle"},
     "encoding": {"text": {"field": "t"}}},
    {"data": {"name": "lab"}, "transform": [{"filter": "datum.p=='b' && datum.k=='panel'"}],
     "mark": {"type": "text", "fontSize": 21, "fontWeight": "bold", "color": "#231f20", "align": "left", "baseline": "middle"},
     "encoding": {"text": {"field": "t"}}}
   ]}
 ]},
 {"spacing": 24, "hconcat": [
  {"width": 398, "height": 332,
   "view": {"stroke": "#1a1a1a", "strokeWidth": 2},
   "encoding": {
    "x": {"field": "x", "type": "quantitative", "scale": {"domain": [1.584, -1.101], "nice": false, "zero": false}, "axis": null},
    "y": {"field": "y", "type": "quantitative", "scale": {"domain": [0, 99.7], "nice": false, "zero": false}, "axis": null}
   },
   "resolve": {"axis": {"x": "independent"}},
   "layer": [
    {"data": {"name": "comp"}, "transform": [{"filter": "datum.p=='c'"}],
     "mark": {"type": "line", "strokeWidth": 1.5, "interpolate": "monotone"},
     "encoding": {
      "x": {"field": "x", "type": "quantitative", "scale": {"domain": [1.584, -1.101], "nice": false, "zero": false}, "axis": {"orient": "bottom", "values": [1.5,1.4,1.3,1.2,1.1,1,0.9,0.8,0.7,0.6,0.5,0.4,0.3,0.2,0.1,0,-0.1,-0.2,-0.3,-0.4,-0.5,-0.6,-0.7,-0.8,-0.9,-1,-1.1], "tickSize": -5, "labels": false, "domain": false, "title": null}},
      "detail": {"field": "s"},
      "color": {"field": "g", "type": "nominal", "scale": {"domain": ["k", "m"], "range": ["#111111", "#7b2d66"]}, "legend": null}}},
    {"data": {"name": "vl"}, "transform": [{"filter": "datum.p=='c'"}],
     "mark": {"type": "rule", "strokeWidth": 2, "color": "#111111"},
     "encoding": {
      "x": {"field": "x", "type": "quantitative", "scale": {"domain": [1.584, -1.101], "nice": false, "zero": false}, "axis": {"orient": "bottom", "values": [1.5,1,0.5,0,-0.5,-1], "tickSize": -10, "domain": false, "labelPadding": 19, "labelExpr": "datum.value == 1 ? '1' : datum.value == 0 ? '0' : datum.value == -1 ? '-1' : ''", "title": "Relative Binding Energy (eV)", "titleX": 212}},
      "y2": {"datum": 0}}},
    {"data": {"name": "dat"}, "transform": [{"filter": "datum.p=='c'"}],
     "mark": {"type": "line", "strokeWidth": 2.4, "color": "#111111", "interpolate": "monotone"}},
    {"data": {"name": "dat"}, "transform": [{"filter": "datum.p=='c'"}],
     "mark": {"type": "circle", "size": 16, "color": "#111111", "opacity": 1}},
    {"data": {"name": "arr"}, "transform": [{"filter": "datum.p=='c'"}],
     "mark": {"type": "rule", "strokeWidth": 1.6, "color": "#111111"},
     "encoding": {"x2": {"field": "x2"}, "y2": {"field": "y2"}}},
    {"data": {"name": "arr"}, "transform": [{"filter": "datum.p=='c' && datum.k=='arrow'"}, {"calculate": "atan2((datum.x-datum.x2)*148, -(datum.y-datum.y2)*3.33)*180/PI", "as": "ang"}],
     "mark": {"type": "point", "shape": "triangle-up", "filled": true, "size": 45, "color": "#111111", "opacity": 1},
     "encoding": {
      "x": {"field": "x2", "type": "quantitative", "scale": {"domain": [1.584, -1.101], "nice": false, "zero": false}, "axis": null},
      "y": {"field": "y2", "type": "quantitative", "scale": {"domain": [0, 99.7], "nice": false, "zero": false}, "axis": null},
      "angle": {"field": "ang", "type": "quantitative", "scale": null}}},
    {"data": {"name": "lab"}, "transform": [{"filter": "datum.p=='c' && datum.k=='peak'"}],
     "mark": {"type": "text", "fontSize": 22, "color": "#231f20", "align": "center", "baseline": "middle"},
     "encoding": {"text": {"field": "t"}}},
    {"data": {"name": "lab"}, "transform": [{"filter": "datum.p=='c' && datum.k=='temp'"}],
     "mark": {"type": "text", "fontSize": 26, "color": "#231f20", "align": "left", "baseline": "middle"},
     "encoding": {"text": {"field": "t"}}},
    {"data": {"name": "lab"}, "transform": [{"filter": "datum.p=='c' && datum.k=='panel'"}],
     "mark": {"type": "text", "fontSize": 21, "fontWeight": "bold", "color": "#231f20", "align": "left", "baseline": "middle"},
     "encoding": {"text": {"field": "t"}}}
   ]},
  {"width": 391, "height": 330,
   "view": {"stroke": "#1a1a1a", "strokeWidth": 2, "strokeDash": [391, 330, 721, 0]},
   "encoding": {
    "x": {"field": "x", "type": "quantitative", "scale": {"domain": [1.591, -1.063], "nice": false, "zero": false}, "axis": null},
    "y": {"field": "y", "type": "quantitative", "scale": {"domain": [0, 99.0], "nice": false, "zero": false}, "axis": null}
   },
   "resolve": {"axis": {"x": "independent"}},
   "layer": [
    {"data": {"name": "comp"}, "transform": [{"filter": "datum.p=='d'"}],
     "mark": {"type": "line", "strokeWidth": 1.4, "interpolate": "monotone"},
     "encoding": {
      "x": {"field": "x", "type": "quantitative", "scale": {"domain": [1.591, -1.063], "nice": false, "zero": false}, "axis": {"orient": "bottom", "values": [1.5,1.4,1.3,1.2,1.1,1,0.9,0.8,0.7,0.6,0.5,0.4,0.3,0.2,0.1,0,-0.1,-0.2,-0.3,-0.4,-0.5,-0.6,-0.7,-0.8,-0.9,-1], "tickSize": -5, "labels": false, "domain": false, "title": null}},
      "detail": {"field": "s"},
      "color": {"field": "g", "type": "nominal", "scale": {"domain": ["k", "m"], "range": ["#111111", "#7b2d66"]}, "legend": null}}},
    {"data": {"name": "vl"}, "transform": [{"filter": "datum.p=='d'"}],
     "mark": {"type": "rule", "strokeWidth": 2, "color": "#111111"},
     "encoding": {
      "x": {"field": "x", "type": "quantitative", "scale": {"domain": [1.591, -1.063], "nice": false, "zero": false}, "axis": {"orient": "bottom", "values": [1.5,1,0.5,0,-0.5,-1], "tickSize": -10, "domain": false, "labelPadding": 19, "labelExpr": "datum.value == 1 ? '1' : datum.value == 0 ? '0' : datum.value == -1 ? '-1' : ''", "title": "Relative Binding Energy (eV)", "titleX": 210}},
      "y2": {"datum": 0}}},
    {"data": {"name": "dat"}, "transform": [{"filter": "datum.p=='d'"}],
     "mark": {"type": "line", "strokeWidth": 1.5, "color": "#111111", "interpolate": "monotone"}},
    {"data": {"name": "dat"}, "transform": [{"filter": "datum.p=='d'"}],
     "mark": {"type": "circle", "size": 9, "color": "#111111", "opacity": 1},
     "encoding": {
      "x": {"field": "x", "type": "quantitative", "scale": {"domain": [1.591, -1.063], "nice": false, "zero": false}, "axis": {"orient": "top", "values": [1.5,1.4,1.3,1.2,1.1,1,0.9,0.8,0.7,0.6,0.5,0.4,0.3,0.2,0.1,0,-0.1,-0.2,-0.3,-0.4,-0.5,-0.6,-0.7,-0.8,-0.9,-1], "tickSize": -5, "labels": false, "domain": false, "title": null}}}},
    {"data": {"name": "arr"}, "transform": [{"filter": "datum.p=='d'"}],
     "mark": {"type": "rule", "strokeWidth": 1.6, "color": "#111111"},
     "encoding": {
      "x": {"field": "x", "type": "quantitative", "scale": {"domain": [1.591, -1.063], "nice": false, "zero": false}, "axis": {"orient": "top", "values": [1.5,1,0.5,0,-0.5,-1], "tickSize": -10, "labels": false, "domain": false, "title": null}},
      "x2": {"field": "x2"}, "y2": {"field": "y2"}}},
    {"data": {"name": "arr"}, "transform": [{"filter": "datum.p=='d' && datum.k=='arrow'"}, {"calculate": "atan2((datum.x-datum.x2)*147, -(datum.y-datum.y2)*3.33)*180/PI", "as": "ang"}],
     "mark": {"type": "point", "shape": "triangle-up", "filled": true, "size": 45, "color": "#111111", "opacity": 1},
     "encoding": {
      "x": {"field": "x2", "type": "quantitative", "scale": {"domain": [1.591, -1.063], "nice": false, "zero": false}, "axis": null},
      "y": {"field": "y2", "type": "quantitative", "scale": {"domain": [0, 99.0], "nice": false, "zero": false}, "axis": null},
      "angle": {"field": "ang", "type": "quantitative", "scale": null}}},
    {"data": {"name": "lab"}, "transform": [{"filter": "datum.p=='d' && datum.k=='peak'"}],
     "mark": {"type": "text", "fontSize": 22, "color": "#231f20", "align": "center", "baseline": "middle"},
     "encoding": {"text": {"field": "t"}}},
    {"data": {"name": "lab"}, "transform": [{"filter": "datum.p=='d' && datum.k=='temp'"}],
     "mark": {"type": "text", "fontSize": 26, "color": "#231f20", "align": "left", "baseline": "middle"},
     "encoding": {"text": {"field": "t"}}},
    {"data": {"name": "lab"}, "transform": [{"filter": "datum.p=='d' && datum.k=='panel'"}],
     "mark": {"type": "text", "fontSize": 21, "fontWeight": "bold", "color": "#231f20", "align": "left", "baseline": "middle"},
     "encoding": {"text": {"field": "t"}}}
   ]}
 ]}
]
}
